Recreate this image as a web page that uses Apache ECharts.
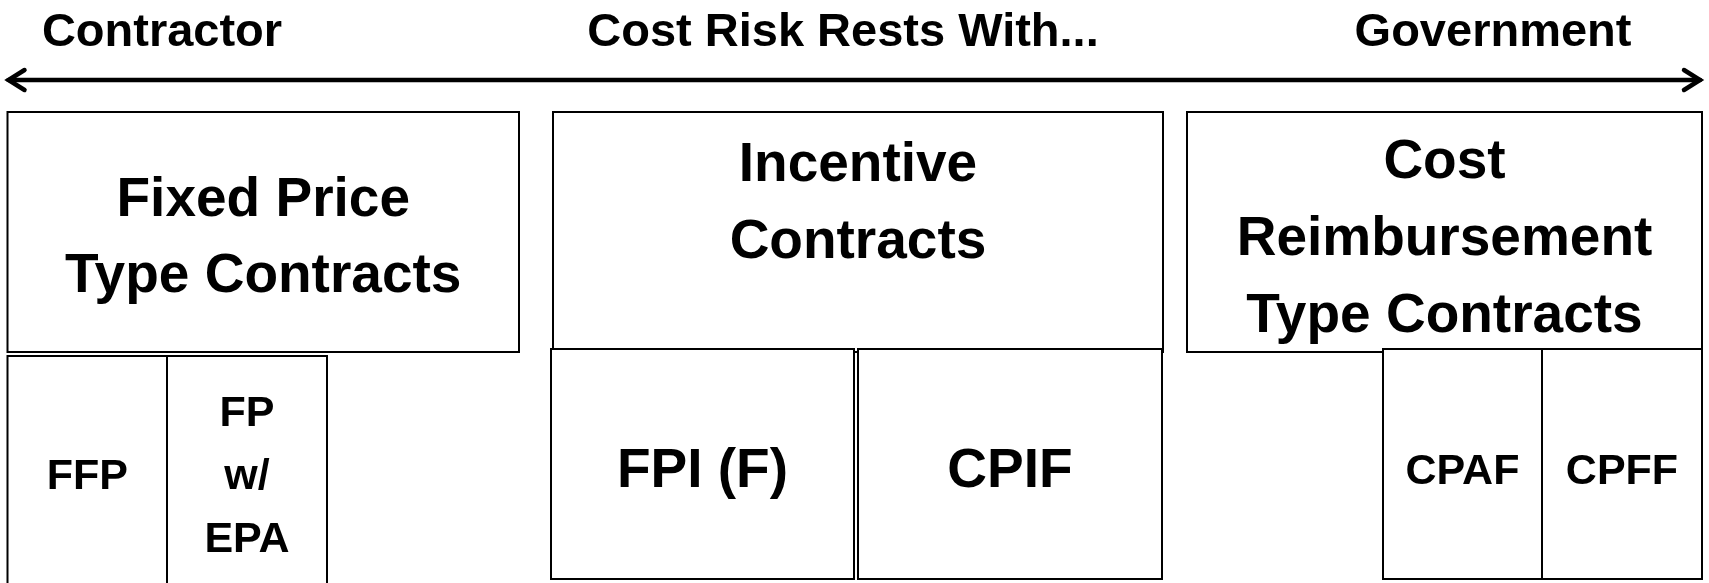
<!DOCTYPE html>
<html>
<head>
<meta charset="utf-8">
<script src="https://cdn.jsdelivr.net/npm/echarts@6/dist/echarts.min.js"></script>
<style>
  html, body { margin: 0; padding: 0; background: #fff; }
  #chart { width: 1709px; height: 583px; }
</style>
</head>
<body>
<div id="chart"></div>
<script>
// header labels above the arrow
var headLabels = ['Contractor', 'Cost Risk Rests With...', 'Government'];
var headX = [162, 843, 1493];
var headY = [33, 33, 33];

// arrow: from / to (x) at one y
var arrowX = [6.5, 1702];
var arrowY = 80;

// boxes (chart units)
var boxLabels = ['Fixed Price\nType Contracts', 'Incentive\nContracts', 'Cost\nReimbursement\nType Contracts',
                 'FFP', 'FP\nw/\nEPA', 'FPI (F)', 'CPIF', 'CPAF', 'CPFF'];
var boxX0 = [7.5, 553, 1187, 7.5, 167, 551, 858, 1383, 1542];
var boxX1 = [519, 1163, 1702, 167, 327, 854, 1162, 1542, 1702];
var boxY0 = [112, 112, 112, 356, 356, 349, 349, 349, 349];
var boxY1 = [352, 352, 352, 595, 595, 579, 579, 579, 579];
var labelY = [239, 204, 240, 477, 477, 472, 472, 472, 472];

var FONT = '"Liberation Sans", Arial, sans-serif';
// font size / line height per box
var boxFont = [55, 55, 55, 43, 43, 55, 55, 43, 43];
var boxLine = [76, 77, 77, 0, 63, 0, 0, 0, 0];

var chart = echarts.init(document.getElementById('chart'));

var boxData = boxLabels.map(function (l, i) {
    return [boxX0[i], boxX1[i], boxY0[i], boxY1[i], labelY[i], i];
});
var headData = headLabels.map(function (l, i) { return [headX[i], headY[i], i]; });

chart.setOption({
    animation: false,
    grid: { left: 0, right: 0, top: 0, bottom: 0 },
    xAxis: { type: 'value', min: 0, max: 1709, show: false },
    yAxis: { type: 'value', min: 0, max: 583, inverse: true, show: false },
    series: [
        {
            type: 'custom',
            clip: false,
            data: boxData,
            renderItem: function (params, api) {
                var i = api.value(5);
                var p0 = api.coord([api.value(0), api.value(2)]);
                var p1 = api.coord([api.value(1), api.value(3)]);
                var t = api.coord([(api.value(0) + api.value(1)) / 2, api.value(4)]);
                return {
                    type: 'group',
                    children: [
                        {
                            type: 'rect',
                            shape: { x: p0[0], y: p0[1], width: p1[0] - p0[0], height: p1[1] - p0[1] },
                            style: { fill: '#fff', stroke: '#000', lineWidth: 2 }
                        },
                        {
                            type: 'text',
                            style: {
                                text: boxLabels[i],
                                x: t[0], y: t[1],
                                align: 'center', verticalAlign: 'middle',
                                fontFamily: FONT, fontWeight: 'bold',
                                fontSize: boxFont[i],
                                lineHeight: boxLine[i] || boxFont[i],
                                fill: '#000'
                            }
                        }
                    ]
                };
            }
        },
        {
            type: 'custom',
            clip: false,
            data: headData,
            renderItem: function (params, api) {
                var i = api.value(2);
                var p = api.coord([api.value(0), api.value(1)]);
                return {
                    type: 'text',
                    style: {
                        text: headLabels[i], x: p[0], y: p[1],
                        align: 'center', verticalAlign: 'middle',
                        fontFamily: FONT, fontWeight: 'bold', fontSize: 47, fill: '#000'
                    }
                };
            }
        },
        {
            type: 'custom',
            clip: false,
            data: [[arrowX[0], arrowX[1], arrowY]],
            renderItem: function (params, api) {
                var a = api.coord([api.value(0), api.value(2)]);
                var b = api.coord([api.value(1), api.value(2)]);
                var st = { stroke: '#000', lineWidth: 4.5, fill: null, lineCap: 'round', lineJoin: 'miter' };
                return {
                    type: 'group',
                    children: [
                        { type: 'line', shape: { x1: a[0] + 2, y1: a[1], x2: b[0] - 2, y2: b[1] }, style: st },
                        { type: 'polyline', shape: { points: [[a[0] + 18, a[1] - 10], [a[0] + 2, a[1]], [a[0] + 18, a[1] + 10]] }, style: st },
                        { type: 'polyline', shape: { points: [[b[0] - 18, b[1] - 10], [b[0] - 2, b[1]], [b[0] - 18, b[1] + 10]] }, style: st }
                    ]
                };
            }
        }
    ]
});
</script>
</body>
</html>
